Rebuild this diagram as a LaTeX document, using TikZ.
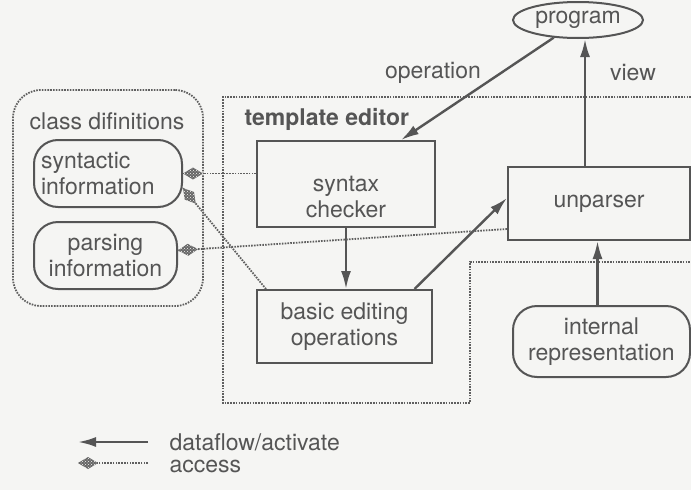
\documentclass[tikz,border=0pt]{standalone}
\usepackage{fontspec}
\setmainfont{TeX Gyre Heros}
\usetikzlibrary{arrows.meta,calc,shapes.geometric,decorations.markings,patterns}
\definecolor{ink}{RGB}{85,85,85}
\definecolor{dotc}{RGB}{95,95,95}
\definecolor{paper}{RGB}{245,245,243}
% stippled head of an "access" connector
\newcommand{\accesshead}{%
  \fill[ink!90, solid]
    (0,0) -- (-10,-6) -- (-20,0) -- (-10,6) -- cycle;
  \fill[pattern=crosshatch dots, pattern color=paper, solid]
    (0,0) -- (-10,-6) -- (-20,0) -- (-10,6) -- cycle;}
\begin{document}
\begin{tikzpicture}[x=1pt,y=-1pt,
  every node/.style={font=\fontsize{23}{26.5}\selectfont, text=ink},
  box/.style={draw=ink, line width=2pt, rectangle, inner sep=0pt},
  rbox/.style={box, rounded corners=24pt},
  zone/.style={draw=dotc, line width=1.8pt, dash pattern=on 1.6pt off 1.2pt},
  flow/.style={draw=ink, line width=2.4pt, -{Latex[length=18pt,width=10pt]}},
  access/.style={zone, postaction={decorate},
    decoration={markings, mark=at position 1 with {\accesshead}}},
]
\fill[paper] (0,0) rectangle (691,490);
\useasboundingbox (0,0) rectangle (691,490);

% class definitions group
\node[zone, rectangle, rounded corners=28pt, minimum width=190, minimum height=216] (cls) at (108,198) {};
\node (clsT) at (107,121) {class difinitions};
\node[rbox, minimum width=148, minimum height=67, align=left, text width=134] (syn) at (108,173.5) {syntactic\\information};
\node[rbox, minimum width=143, minimum height=67, align=center] (parse) at (105.5,255.5) {parsing\\information};

% template editor region
\draw[zone] (691,97) -- (223,97) -- (223,403) -- (470,403) -- (470,262) -- (691,262);
\node[anchor=base west, font=\fontsize{23}{26.5}\selectfont\bfseries] (teT) at (241,125) {template editor};

\node[box, minimum width=178, minimum height=86] (chk) at (346,184) {};
\node[align=center] (chkT) at (346,197) {syntax\\checker};
\node[box, minimum width=175, minimum height=73, align=center] (bed) at (344.5,326.5) {basic editing\\operations};
\node[box, minimum width=182, minimum height=73] (unp) at (599,203.5) {unparser};
\node[rbox, minimum width=177, minimum height=71, align=center] (irep) at (601.5,341.5) {internal\\representation};
\node[ellipse, draw=ink, line width=2pt, minimum width=130, minimum height=36, inner sep=0pt] (prog) at (578,20) {program};

\node (opL) at (433,73) {operation};
\node (viewL) at (633,73) {view};

% dataflow / activation
\coordinate (vx) at (585,0);
\coordinate (ix) at ($(irep.north)+(-4,0)$);
\draw[flow] (prog.216) -- ($(chk.north)+(55,0)$);
\draw[flow] (unp.north -| vx) -- (prog.south -| vx);
\draw[flow] (chk.south) -- (chk.south |- bed.north);
\draw[flow] ($(bed.north)+(70,0)$) -- ($(unp.west)+(0,-5.5)$);
\draw[flow] (ix) -- (ix |- unp.south);

% access
\draw[access] (chk.west |- syn.east) -- (syn.east);
\draw[access] ($(bed.north west)+(10,0)$) -- (syn.-11);
\draw[access] ($(unp.south west)+(0,-12)$) -- (parse.4);

% legend
\coordinate (l1a) at (148,442);
\coordinate (l1b) at (78,442);
\draw[flow] (l1a) -- (l1b);
\node[anchor=west] (l1T) at (166,442) {dataflow/activate};
\coordinate (l2a) at (148,463);
\coordinate (l2b) at (78,463);
\draw[access] (l2a) -- (l2b);
\node[anchor=west] (l2T) at (166,466) {access};
\end{tikzpicture}
\end{document}
